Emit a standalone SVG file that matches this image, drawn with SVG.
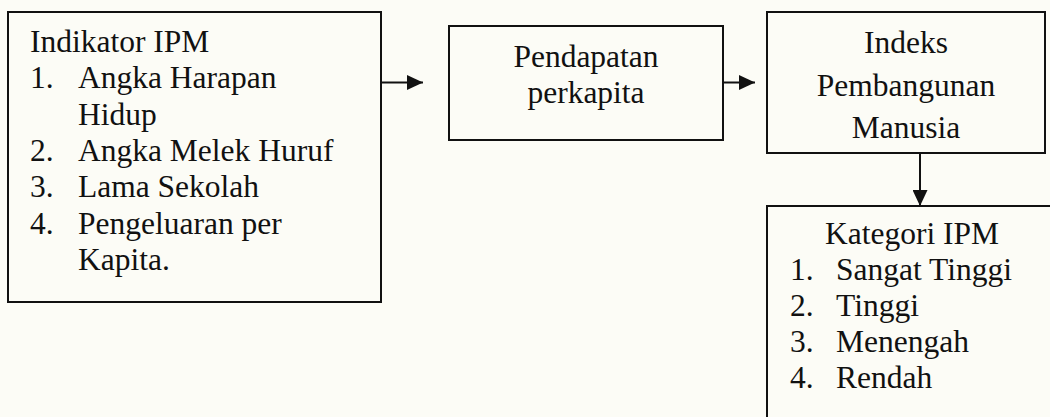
<svg xmlns="http://www.w3.org/2000/svg" width="1050" height="417" viewBox="0 0 1050 417">
<style>
.box{fill:none;stroke:#111;stroke-width:2}
.con{stroke:#111;stroke-width:2;fill:none}
text{font-family:"Liberation Serif","Times New Roman",serif;font-size:31.5px;fill:#111}
.c{text-anchor:middle}
</style>
<defs>
<marker id="ah" viewBox="0 0 16 15" refX="16" refY="7.5" markerWidth="16" markerHeight="15" markerUnits="userSpaceOnUse" orient="auto">
<path d="M0,0 L16,7.5 L0,15 Z" fill="#111"/>
</marker>
</defs>
<rect width="1050" height="417" fill="#fcfcf6"/>
<g id="indikator">
<rect class="box" x="8" y="12" width="373" height="290"/>
<text x="30" y="52">Indikator IPM</text>
<text x="30" y="88.3">1.</text><text x="78" y="88.3">Angka Harapan</text>
<text x="78" y="124.6">Hidup</text>
<text x="30" y="160.9">2.</text><text x="78" y="160.9">Angka Melek Huruf</text>
<text x="30" y="197.2">3.</text><text x="78" y="197.2">Lama Sekolah</text>
<text x="30" y="233.5">4.</text><text x="78" y="233.5">Pengeluaran per</text>
<text x="78" y="269.8">Kapita.</text>
</g>
<g id="pendapatan">
<rect class="box" x="449" y="26" width="274" height="114"/>
<text class="c" x="586" y="67">Pendapatan</text>
<text class="c" x="586" y="103">perkapita</text>
</g>
<g id="ipm">
<rect class="box" x="767" y="12" width="278" height="141"/>
<text class="c" x="906" y="53">Indeks</text>
<text class="c" x="906" y="96">Pembangunan</text>
<text class="c" x="906" y="138">Manusia</text>
</g>
<g id="kategori">
<path class="box" d="M1052,206 H767 V419"/>
<text class="c" x="912" y="244">Kategori IPM</text>
<text x="790" y="280">1.</text><text x="836" y="280">Sangat Tinggi</text>
<text x="790" y="316">2.</text><text x="836" y="316">Tinggi</text>
<text x="790" y="352">3.</text><text x="836" y="352">Menengah</text>
<text x="790" y="388">4.</text><text x="836" y="388">Rendah</text>
</g>
<g id="connectors">
<line class="con" x1="381" y1="82.5" x2="423" y2="82.5" marker-end="url(#ah)"/>
<line class="con" x1="723" y1="82.5" x2="755" y2="82.5" marker-end="url(#ah)"/>
<line class="con" x1="920" y1="153" x2="920" y2="206" marker-end="url(#ah)"/>
</g>
</svg>
